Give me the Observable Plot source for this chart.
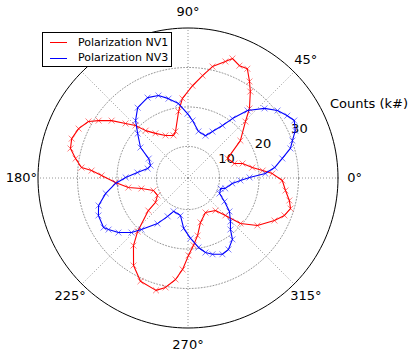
<!DOCTYPE html>
<html>
<head>
<meta charset="utf-8">
<script src="https://cdn.jsdelivr.net/npm/d3@7"></script>
<script src="https://cdn.jsdelivr.net/npm/@observablehq/plot@0.6"></script>
<style>
  body { margin: 0; background: #fff; font-family: "DejaVu Sans", sans-serif; }
  #wrap { position: relative; width: 415px; height: 356px; }
  #legend { position: absolute; left: 42px; top: 32px; width: 130px; height: 35px; border: 1px solid #000; background: #fff; box-sizing: border-box; }
  .lgline { position: absolute; left: 7px; width: 17px; height: 0; border-top: 1.2px solid; }
  .lgtext { position: absolute; left: 35px; font-size: 11px; line-height: 11px; color: #000; white-space: nowrap; }
  #ylabel { position: absolute; left: 330px; top: 97px; font-size: 13px; line-height: 13px; color: #000; white-space: nowrap; }
</style>
</head>
<body>
<div id="wrap">
  <div id="chart"></div>
  <div id="legend"></div>
  <div id="ylabel"></div>
</div>
<script>
// ---- data (angle in degrees, counts in k#) ----
const seriesNames = ["Polarization NV1", "Polarization NV3"];
const seriesColors = ["#ff0000", "#0000ff"];

const nv1Angles = [3.0, 5.7, 9.2, 14.9, 17.3, 26.3, 35.5, 44.5, 48.5, 54.2, 57.5, 61.5, 65.4, 69.6, 72.2, 77.6, 81.9, 87.2, 94.0, 98.1, 105.0, 108.8, 117.9, 126.1, 131.8, 135.0, 138.9, 143.1, 147.3, 150.4, 155.7, 161.3, 165.9, 170.2, 174.4, 175.6, 178.3, 183.6, 189.1, 192.7, 199.9, 209.8, 217.0, 219.4, 226.7, 231.1, 238.1, 245.3, 254.1, 258.4, 263.0, 266.6, 270.4, 274.7, 279.4, 285.7, 296.9, 310.2, 315.0, 319.1, 325.6, 333.8, 338.8, 343.4, 347.5, 352.7, 358.5];
const nv1Counts = [23.4, 21.0, 18.5, 16.3, 14.3, 13.2, 18.3, 22.4, 25.5, 29.0, 31.0, 33.5, 33.3, 34.3, 33.0, 30.9, 28.2, 25.4, 22.2, 19.0, 14.2, 13.4, 14.2, 16.0, 18.1, 20.8, 23.0, 26.2, 28.9, 31.0, 32.4, 33.1, 32.7, 30.9, 29.1, 26.5, 23.9, 20.4, 17.3, 14.1, 11.3, 10.9, 12.3, 15.0, 20.6, 24.0, 28.1, 30.8, 31.6, 30.3, 27.9, 25.2, 21.6, 19.1, 16.8, 13.7, 11.8, 12.8, 15.4, 19.6, 23.3, 26.4, 28.2, 29.1, 28.3, 26.9, 25.9];

const nv3Angles = [0.5, 3.3, 6.9, 11.7, 16.1, 19.7, 23.8, 28.4, 32.1, 37.0, 42.3, 48.6, 53.2, 56.7, 62.2, 67.6, 77.3, 85.5, 90.4, 97.3, 103.8, 109.7, 116.7, 125.6, 132.4, 138.6, 147.3, 153.7, 161.6, 166.8, 173.8, 179.5, 184.3, 190.6, 197.1, 202.7, 210.4, 213.0, 218.1, 224.0, 227.9, 236.2, 242.0, 246.6, 258.7, 265.1, 272.4, 278.6, 283.2, 287.8, 294.3, 299.5, 305.9, 309.5, 314.3, 321.1, 327.2, 333.8, 342.1, 344.4, 353.0, 357.3];
const nv3Counts = [17.6, 21.6, 24.1, 26.4, 29.0, 30.1, 31.7, 32.6, 31.7, 30.4, 28.2, 24.8, 20.8, 17.9, 15.3, 13.6, 14.1, 16.6, 18.3, 21.0, 22.7, 24.2, 24.8, 23.9, 21.7, 19.0, 16.3, 13.1, 12.0, 12.5, 14.9, 17.8, 20.4, 23.2, 25.7, 26.6, 26.8, 26.0, 24.4, 21.9, 19.6, 15.9, 13.0, 11.2, 11.7, 14.8, 17.3, 19.8, 21.4, 22.3, 23.2, 22.8, 21.2, 18.9, 17.4, 15.5, 13.0, 10.9, 10.7, 11.8, 13.3, 15.3];

const radialTicks = [10, 20, 30];
const angleTicks = [0, 45, 90, 135, 180, 225, 270, 315];
const angleLabelsShown = [0, 45, 90, 180, 225, 270, 315]; // 135° sits under the legend
const radialLabel = "Counts (k#)";

// ---- polar helpers ----
const rMin = 2, rMax = 40;
const R = rMax - rMin;
const rad = a => a * Math.PI / 180;
const px = (a, r) => (r - rMin) * Math.cos(rad(a));
const py = (a, r) => (r - rMin) * Math.sin(rad(a));

const nv1 = nv1Angles.map((a, i) => ({a, r: nv1Counts[i]}));
const nv3 = nv3Angles.map((a, i) => ({a, r: nv3Counts[i]}));

const circleAngles = d3.range(0, 361, 2);
const gridCircles = radialTicks.flatMap(g => circleAngles.map(a => ({g, a, r: g})));
const outerCircle = circleAngles.map(a => ({a, r: rMax}));
const spokes = angleTicks.map(a => ({a}));

const chart = Plot.plot({
  width: 415,
  height: 356,
  marginLeft: 37.5,
  marginRight: 77.5,
  marginTop: 27.5,
  marginBottom: 28.5,
  x: {domain: [-R, R], axis: null},
  y: {domain: [-R, R], axis: null},
  style: {fontFamily: "DejaVu Sans, sans-serif", background: "white"},
  marks: [
    Plot.line(gridCircles, {x: d => px(d.a, d.r), y: d => py(d.a, d.r), z: "g", stroke: "#8a8a8a", strokeWidth: 0.9, strokeDasharray: "1,2"}),
    Plot.link(spokes, {x1: 0, y1: 0, x2: d => R * Math.cos(rad(d.a)), y2: d => R * Math.sin(rad(d.a)), stroke: "#8a8a8a", strokeWidth: 0.9, strokeDasharray: "1,2"}),
    Plot.line(outerCircle, {x: d => px(d.a, d.r), y: d => py(d.a, d.r), stroke: "#000", strokeWidth: 1}),
    Plot.text(angleLabelsShown, {x: a => 42.2 * Math.cos(rad(a)), y: a => 42.2 * Math.sin(rad(a)), text: a => `${a}°`, fontSize: 13, fill: "#000", textAnchor: "middle", lineAnchor: "middle"}),
    Plot.text(radialTicks, {x: g => px(22.5, g), y: g => py(22.5, g), text: g => `${g}`, fontSize: 13, fill: "#000", textAnchor: "start", lineAnchor: "middle", dx: 1, dy: -7}),
    Plot.dot(nv1, {x: d => px(d.a, d.r), y: d => py(d.a, d.r), symbol: "times", r: 2.8, stroke: seriesColors[0], strokeOpacity: 0.5, strokeWidth: 1}),
    Plot.line(nv1, {x: d => px(d.a, d.r), y: d => py(d.a, d.r), curve: "linear-closed", stroke: seriesColors[0], strokeWidth: 1.1}),
    Plot.dot(nv3, {x: d => px(d.a, d.r), y: d => py(d.a, d.r), symbol: "times", r: 2.8, stroke: seriesColors[1], strokeOpacity: 0.5, strokeWidth: 1}),
    Plot.line(nv3, {x: d => px(d.a, d.r), y: d => py(d.a, d.r), curve: "linear-closed", stroke: seriesColors[1], strokeWidth: 1.1})
  ]
});
document.getElementById("chart").appendChild(chart);

// legend
const lg = document.getElementById("legend");
seriesNames.forEach((name, i) => {
  const top = i === 0 ? 9 : 24.5;
  const line = document.createElement("div");
  line.className = "lgline";
  line.style.top = top + "px";
  line.style.borderTopColor = seriesColors[i];
  lg.appendChild(line);
  const t = document.createElement("div");
  t.className = "lgtext";
  t.style.top = (top - 5.5) + "px";
  t.textContent = name;
  lg.appendChild(t);
});
document.getElementById("ylabel").textContent = radialLabel;
</script>
</body>
</html>
